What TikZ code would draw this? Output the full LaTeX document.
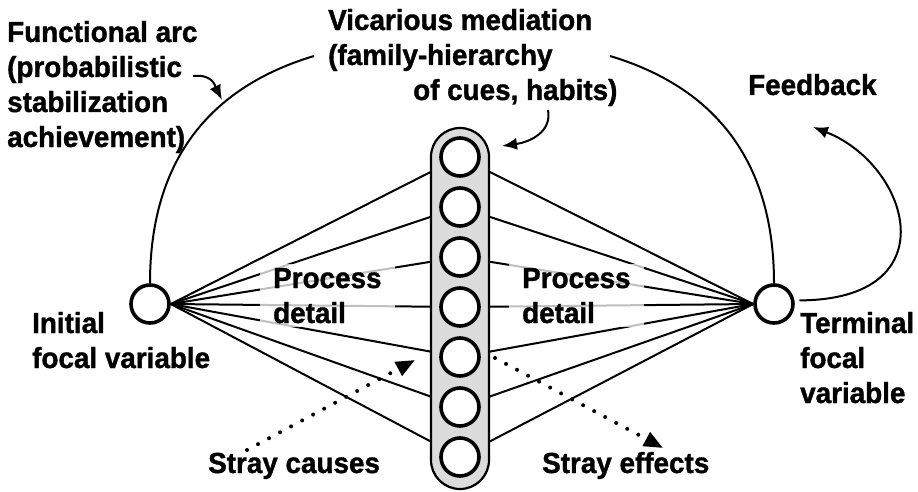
\documentclass[tikz,border=0pt]{standalone}
\usepackage{fontspec}
\setmainfont{Liberation Sans}[FakeStretch=0.96, BoldFeatures={FakeBold=1.2}]
\usetikzlibrary{arrows.meta}
\usetikzlibrary{backgrounds}
\definecolor{colgray}{gray}{0.86}

\begin{document}
\begin{tikzpicture}[x=1pt, y=-1pt,
  focal/.style={circle, draw, fill=white, line width=3.6pt, minimum size=38pt, inner sep=0pt},
  cue/.style={focal},
  lbl/.style={font=\bfseries\fontsize{29}{35}\selectfont, align=left, inner sep=0pt, anchor=base west},
  haze/.style={fill=white, fill opacity=0.75, text opacity=1, inner xsep=13pt, inner ysep=4pt},
  link/.style={line width=2pt},
  pointer/.style={line width=2pt, -{Latex[length=15pt,width=12pt]}},
  stray/.style={line width=4pt, line cap=round, dash pattern=on 0pt off 12.5pt, -{Triangle[length=19pt,width=15pt]}}]
  \useasboundingbox (0,0) rectangle (918,492);

  % focal variables and the column of cues
  \node[focal] (L) at (150,304) {};
  \node[focal] (R) at (774,304) {};
  \foreach \i in {0,...,6}
    \node[cue] (c\i) at (460,157+50*\i) {};

  \begin{scope}[on background layer]
    \foreach \i in {0,...,6} {
      \draw[link] (L.east) -- (c\i.center);
      \draw[link] (c\i.center) -- (R.west);
    }
    \filldraw[fill=colgray, line width=2.2pt, rounded corners=29pt] (431,128) rectangle (489,489);
  \end{scope}

  % functional arc, broken under the text
  \coordinate (arcL) at (314,56);
  \coordinate (arcR) at (610,56);
  \draw[link] (L.north) .. controls (150,156) and (214,86) .. (arcL);
  \draw[link] (arcR) .. controls (710,86) and (774,156) .. (R.north);

  % labels (base = last line)
  \node[lbl] (func) at (7,147) {Functional arc\\(probabilistic\\stabilization\\achievement)};
  \node[lbl] (vic) at (328,100) {Vicarious mediation\\(family-hierarchy\\\hspace*{85pt}of cues, habits)};
  \node[lbl] (fb) at (748,95) {Feedback};
  \node[lbl] (init) at (32,368) {Initial\\focal variable};
  \node[lbl] (term) at (800,403) {Terminal\\focal\\variable};
  \node[lbl, haze] (pdl) at (260,323) {Process\\detail};
  \node[lbl, haze] (pdr) at (509,323) {Process\\detail};
  \node[lbl] (sc) at (208,473) {Stray causes};
  \node[lbl] (se) at (542,473) {Stray effects};

  % pointers
  \coordinate (funcend) at (193,76);
  \coordinate (onarc) at (222,100);
  \coordinate (vicend) at (548,110);
  \coordinate (colside) at (502,146);
  \coordinate (fbtip) at (813,127);
  \coordinate (scstart) at (247,450);
  \coordinate (sctip) at (415,360);
  \coordinate (sestart) at (495,358);
  \coordinate (setip) at (663,448);
  \draw[pointer] (funcend) .. controls (213,74) and (215,86) .. (onarc);
  \draw[pointer] (vicend) .. controls (552,132) and (530,142) .. (colside);
  \draw[pointer, shorten <=5pt] (R.10) .. controls (950,300) and (910,165) .. (fbtip);
  \draw[stray] (scstart) -- (sctip);
  \draw[stray] (sestart) -- (setip);
\end{tikzpicture}
\end{document}
